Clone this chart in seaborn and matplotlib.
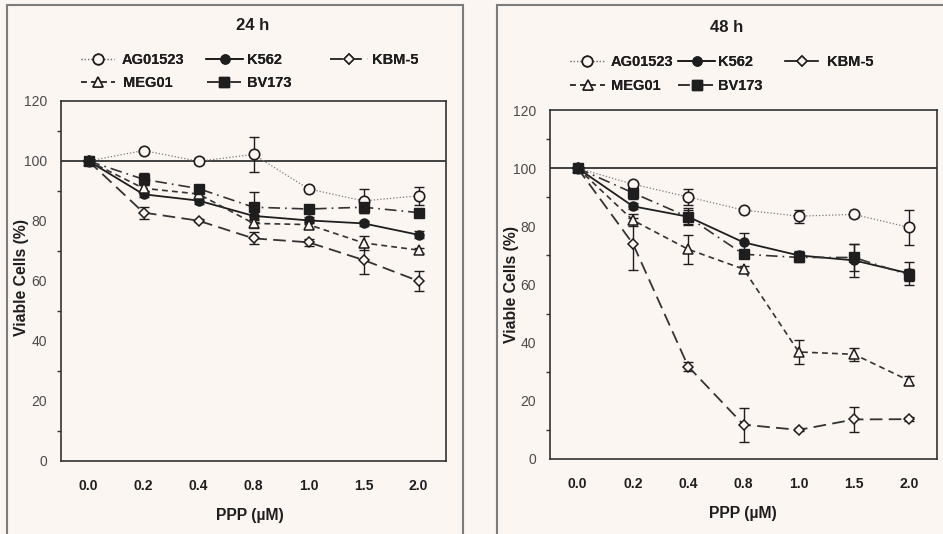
import numpy as np
import pandas as pd
import matplotlib
matplotlib.use("Agg")
import matplotlib.pyplot as plt
import seaborn as sns
from matplotlib.lines import Line2D
from matplotlib.patches import Rectangle

# ---------------- data ----------------
doses = ["0.0", "0.2", "0.4", "0.8", "1.0", "1.5", "2.0"]
series_names = ["AG01523", "K562", "KBM-5", "MEG01", "BV173"]

ag_24 = [100, 103.5, 99.9, 102.2, 90.7, 86.7, 88.4]
ag_24_err = [0, 0.5, 1.0, 5.9, 0.5, 4.0, 3.0]
k562_24 = [100, 88.9, 86.8, 81.7, 80.2, 79.2, 75.4]
k562_24_err = [0, 1.0, 1.0, 1.5, 1.0, 0.8, 1.2]
kbm_24 = [100, 82.8, 80.1, 74.2, 72.9, 67.0, 60.0]
kbm_24_err = [0, 2.0, 0.5, 2.0, 1.2, 4.5, 3.4]
meg_24 = [100, 90.9, 89.0, 79.2, 78.8, 72.7, 70.3]
meg_24_err = [0, 1.0, 1.0, 1.5, 1.0, 2.3, 0.8]
bv_24 = [100, 93.9, 90.8, 84.6, 84.0, 84.6, 82.8]
bv_24_err = [0, 2.0, 1.0, 5.0, 0.5, 2.0, 1.0]

ag_48 = [100, 94.5, 90.1, 85.6, 83.5, 84.1, 79.6]
ag_48_err = [0, 0.8, 2.8, 0.8, 2.2, 0.8, 6.1]
k562_48 = [100, 86.9, 83.3, 74.5, 70.0, 68.3, 63.8]
k562_48_err = [0, 1.0, 3.0, 3.2, 1.5, 5.7, 4.0]
kbm_48 = [100, 74.0, 31.8, 11.8, 10.0, 13.6, 13.7]
kbm_48_err = [0, 9.0, 1.5, 5.8, 0.5, 4.3, 0.6]
meg_48 = [100, 82.1, 72.1, 65.3, 36.8, 36.0, 26.9]
meg_48_err = [0, 2.0, 5.0, 1.0, 4.0, 2.3, 1.5]
bv_48 = [100, 91.5, 83.2, 70.4, 69.3, 69.3, 63.2]
bv_48_err = [0, 2.0, 2.5, 1.0, 1.5, 4.5, 2.0]

# ---------------- style ----------------
sns.set_theme(style="white")
plt.rcParams["font.family"] = ["Liberation Sans", "DejaVu Sans"]
BG = "#fcf6f3"
INK = "#1e1e1e"

styles = {
    "AG01523": dict(ls=(0, (1, 1.6)), lw=0.9, color="#7a7a7a", marker="o", ms=7.5, mfc=BG, mec=INK, mew=1.2),
    "K562": dict(ls="-", lw=1.3, color=INK, marker="o", ms=6.5, mfc=INK, mec=INK, mew=1.0),
    "KBM-5": dict(ls=(0, (7, 3.5)), lw=1.3, color="#333333", marker="D", ms=5, mfc=BG, mec=INK, mew=1.1),
    "MEG01": dict(ls=(0, (3.5, 2.5)), lw=1.2, color="#333333", marker="^", ms=6.5, mfc=BG, mec=INK, mew=1.1),
    "BV173": dict(ls=(0, (7, 3, 1, 3)), lw=1.2, color="#333333", marker="s", ms=6.5, mfc=INK, mec=INK, mew=1.0),
}

fig = plt.figure(figsize=(9.43, 5.34), dpi=100, facecolor=BG)
W, H = 943.0, 534.0

def fx(px):
    return px / W

def fy(py):
    return 1 - py / H

# panel frames
fig.patches.append(Rectangle((fx(7), fy(560)), fx(463) - fx(7), fy(5) - fy(560),
                             transform=fig.transFigure, fill=False, ec="#7d7d7d", lw=1.5))
fig.patches.append(Rectangle((fx(497), fy(560)), fx(990) - fx(497), fy(5) - fy(560),
                             transform=fig.transFigure, fill=False, ec="#7d7d7d", lw=1.5))

ax1 = fig.add_axes([fx(61), fy(461), fx(446) - fx(61), fy(101) - fy(461)])
ax2 = fig.add_axes([fx(550), fy(459), fx(937) - fx(550), fy(110) - fy(459)])

x = np.arange(len(doses))

panels = [
    (ax1, "24 h", {"AG01523": (ag_24, ag_24_err), "K562": (k562_24, k562_24_err),
                   "KBM-5": (kbm_24, kbm_24_err), "MEG01": (meg_24, meg_24_err),
                   "BV173": (bv_24, bv_24_err)}, (-0.083, 0.51), (0.491, -0.131)),
    (ax2, "48 h", {"AG01523": (ag_48, ag_48_err), "K562": (k562_48, k562_48_err),
                   "KBM-5": (kbm_48, kbm_48_err), "MEG01": (meg_48, meg_48_err),
                   "BV173": (bv_48, bv_48_err)}, (-0.080, 0.50), (0.499, -0.135)),
]

for ax, title, data, ylc, xlc in panels:
    ax.set_facecolor(BG)
    ax.axhline(100, color="#333333", lw=1.3, zorder=1)
    for name in series_names:
        vals, errs = data[name]
        st = styles[name]
        df = pd.DataFrame({"dose": x, "v": vals})
        ax.errorbar(x, vals, yerr=errs, fmt="none", ecolor=INK, elinewidth=1.0,
                    capsize=3.5, capthick=1.0, zorder=2)
        sns.lineplot(data=df, x="dose", y="v", ax=ax, color=st["color"], linestyle=st["ls"],
                     linewidth=st["lw"], marker=st["marker"], markersize=st["ms"],
                     markerfacecolor=st["mfc"], markeredgecolor=st["mec"],
                     markeredgewidth=st["mew"], legend=False, zorder=3)
    ax.set_xlim(-0.5, len(doses) - 0.5)
    ax.set_ylim(0, 120)
    ax.set_xticks(np.arange(-0.5, len(doses), 1.0))
    ax.set_xticklabels([])
    ax.set_xticks(x, minor=True)
    ax.set_xticklabels(doses, minor=True)
    ax.tick_params(axis="x", which="major", direction="out", length=5, width=1.1, color="#333333")
    ax.tick_params(axis="x", which="minor", length=0, pad=13, labelsize=10, labelcolor=INK)
    for lab in ax.get_xticklabels(minor=True):
        lab.set_fontweight("bold")
    ax.set_yticks(np.arange(0, 121, 20))
    ax.set_yticks(np.arange(10, 120, 20), minor=True)
    ax.tick_params(axis="y", which="major", direction="out", length=5, width=1.1,
                   color="#333333", labelsize=10, labelcolor="#4a4a4a", pad=5)
    ax.tick_params(axis="y", which="minor", direction="out", length=3, width=1.0,
                   color="#333333", left=True)
    for sp in ax.spines.values():
        sp.set_color("#333333")
        sp.set_linewidth(1.2)
    ax.set_xlabel("PPP (µM)", fontsize=11.3, fontweight="bold", color=INK)
    ax.set_ylabel("Viable Cells (%)", fontsize=11.3, fontweight="bold", color=INK)
    ax.yaxis.set_label_coords(*ylc)
    ax.xaxis.set_label_coords(*xlc)
    ax.grid(False)

fig.text(fx(253), fy(25), "24 h", ha="center", va="center", fontsize=12, fontweight="bold", color=INK)
fig.text(fx(727), fy(27), "48 h", ha="center", va="center", fontsize=12, fontweight="bold", color=INK)

FS = 10.5
FSPX = FS * 100 / 72.0

def handle_for(name, solid=False):
    st = styles[name]
    return Line2D([], [], color=st["color"], linestyle="-" if solid else st["ls"], linewidth=st["lw"],
                  marker=st["marker"], markersize=st["ms"], markerfacecolor=st["mfc"],
                  markeredgecolor=st["mec"], markeredgewidth=st["mew"])

def place_entry(name, x0, x1, xt, yc, solid=False):
    h = handle_for(name, solid)
    leg = fig.legend(handles=[h], labels=[name], loc="center left",
                     bbox_to_anchor=(fx(x0), fy(yc)), bbox_transform=fig.transFigure,
                     frameon=False, borderpad=0, borderaxespad=0,
                     handlelength=(x1 - x0) / FSPX, handletextpad=(xt - x1) / FSPX,
                     prop={"size": FS, "weight": "bold"}, labelcolor=INK)
    fig.add_artist(leg)

# left legend
place_entry("AG01523", 81, 114, 122, 60)
place_entry("K562", 206, 243, 247, 60)
place_entry("KBM-5", 330, 368, 372, 60)
place_entry("MEG01", 81, 115, 123, 83)
place_entry("BV173", 207, 241, 247, 83)
# right legend
place_entry("AG01523", 570, 604, 611, 62)
place_entry("K562", 678, 715, 718, 62)
place_entry("KBM-5", 785, 818, 827, 62, solid=True)
place_entry("MEG01", 570, 605, 611, 86)
place_entry("BV173", 678, 715, 718, 86)

fig.savefig("out.png", dpi=100, facecolor=BG)
